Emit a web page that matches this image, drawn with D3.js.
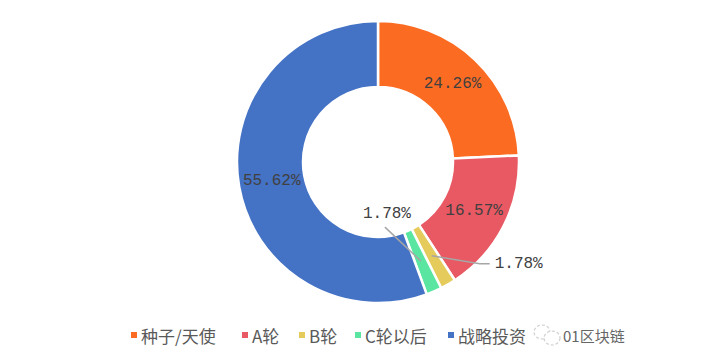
<!DOCTYPE html>
<html lang="zh">
<head>
    <meta charset="UTF-8">
    <title>融资轮次分布</title>
    <script src="https://d3js.org/d3.v7.min.js"></script>
    <style>
        body { margin: 0; background: #fff; }
    </style>
</head>
<body>
    <svg width="710" height="362"></svg>
    <script>
        // data
        const categories = ["种子/天使", "A轮", "B轮", "C轮以后", "战略投资"];
        const shares = [24.26, 16.57, 1.78, 1.78, 55.62];
        const colors = ["#FC6B22", "#E85963", "#E5CB5B", "#5AE6A0", "#4472C4"];

        const width = 710, height = 362;
        const cx = 378, cy = 162, outerR = 141, innerR = 75;
        const svg = d3.select("svg");
        const g = svg.append("g").attr("transform", `translate(${cx},${cy})`);

        const data = categories.map((c, i) => ({ name: c, value: shares[i], color: colors[i] }));
        const pie = d3.pie().sort(null).value(d => d.value);
        const arc = d3.arc().innerRadius(innerR).outerRadius(outerR);
        const arcs = pie(data);

        g.selectAll("path.slice")
            .data(arcs)
            .enter()
            .append("path")
            .attr("class", "slice")
            .attr("d", arc)
            .attr("fill", d => d.data.color)
            .attr("stroke", "#fff")
            .attr("stroke-width", 2.5)
            .attr("stroke-linejoin", "round");

        const labelFont = "'Liberation Mono', 'DejaVu Sans Mono', monospace";
        const fmt = v => v.toFixed(2) + "%";

        // small slices get callouts, the rest sit on the centroid
        const callout = {
            "B轮": { pts: [[48, 8], [58, 8]], tx: 63, ty: 8, anchor: "start" },
            "C轮以后": { pts: [[-36, -34]], tx: -34, ty: -47, anchor: "middle" }
        };

        arcs.forEach(d => {
            const [x, y] = arc.centroid(d);
            const c = callout[d.data.name];
            if (c) {
                const line = [[x, y]].concat(c.pts.map(p => [x + p[0], y + p[1]]));
                g.append("path")
                    .attr("d", d3.line()(line))
                    .attr("fill", "none")
                    .attr("stroke", "#A6A6A6")
                    .attr("stroke-width", 1.5);
                g.append("text")
                    .attr("x", x + c.tx).attr("y", y + c.ty)
                    .attr("text-anchor", c.anchor)
                    .attr("dominant-baseline", "central")
                    .style("font-family", labelFont)
                    .style("font-size", "16px")
                    .attr("fill", "#404040")
                    .text(fmt(d.data.value));
            } else {
                g.append("text")
                    .attr("x", x).attr("y", y)
                    .attr("text-anchor", "middle")
                    .attr("dominant-baseline", "central")
                    .style("font-family", labelFont)
                    .style("font-size", "16px")
                    .attr("fill", "#404040")
                    .text(fmt(d.data.value));
            }
        });

        // legend
        const legendX = [131, 242, 299, 355, 448];
        const legend = svg.append("g").attr("transform", "translate(0,335)");
        categories.forEach((c, i) => {
            const item = legend.append("g").attr("transform", `translate(${legendX[i]},0)`);
            item.append("rect").attr("x", 0).attr("y", -3).attr("width", 6).attr("height", 6).attr("fill", colors[i]);
            item.append("text")
                .attr("x", 10).attr("y", 0)
                .attr("dominant-baseline", "central")
                .style("font-family", "'Noto Sans CJK SC', sans-serif")
                .style("font-size", "17px")
                .attr("fill", "#595959")
                .text(c);
        });

        // watermark
        const wm = svg.append("g").attr("transform", "translate(547,335)").attr("opacity", 0.85);
        wm.append("ellipse").attr("cx", -5).attr("cy", -3).attr("rx", 8).attr("ry", 7)
            .attr("fill", "none").attr("stroke", "#C8C8C8").attr("stroke-width", 1.2).attr("stroke-dasharray", "3,2");
        wm.append("ellipse").attr("cx", 5).attr("cy", 3).attr("rx", 8).attr("ry", 7)
            .attr("fill", "#fff").attr("stroke", "#C8C8C8").attr("stroke-width", 1.2).attr("stroke-dasharray", "3,2");
        svg.append("text")
            .attr("x", 563).attr("y", 335)
            .attr("dominant-baseline", "central")
            .style("font-family", "'Noto Sans CJK SC', sans-serif")
            .style("font-size", "15px")
            .attr("fill", "#666")
            .text("01区块链");
    </script>
</body>
</html>
